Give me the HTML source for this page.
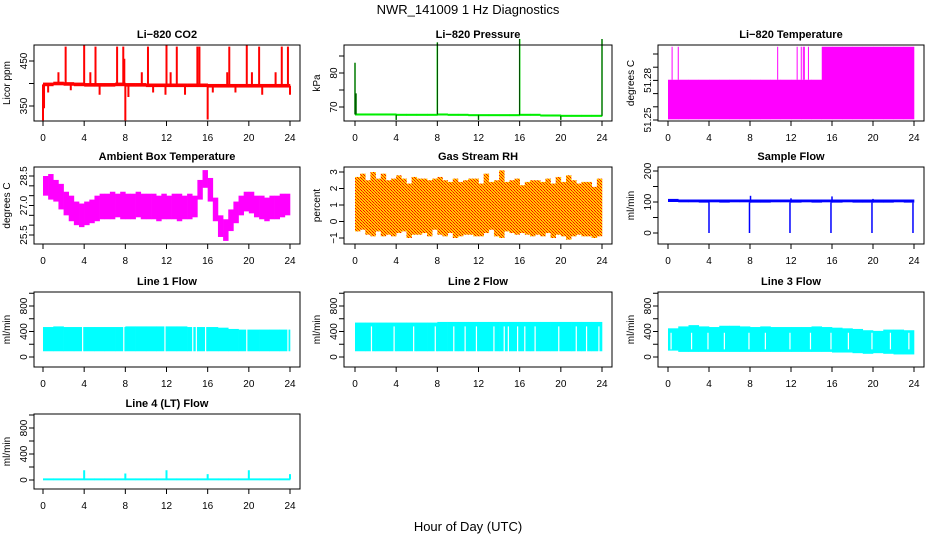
<!DOCTYPE html>
<html><head><meta charset="utf-8"><style>
html,body{margin:0;padding:0;background:#fff;}
svg{display:block;font-family:"Liberation Sans",Arial,sans-serif;}
</style></head><body>
<svg id="chart" width="936" height="540" viewBox="0 0 936 540" xmlns="http://www.w3.org/2000/svg">
<defs>
<pattern id="rhpat" width="3" height="3" patternUnits="userSpaceOnUse">
<rect width="3" height="3" fill="#ffcc00"/><rect width="1" height="1" fill="#ff0000"/><rect x="1" y="1" width="1" height="1" fill="#ff0000"/><rect x="2" y="2" width="1" height="1" fill="#ff3300"/>
</pattern>
</defs>
<text x="468" y="14" font-size="13" text-anchor="middle">NWR_141009  1 Hz Diagnostics</text>
<text x="468" y="531" font-size="13" text-anchor="middle">Hour of Day (UTC)</text>
</svg>
<script>
// ---- data ----
const hourTicks = [0,4,8,12,16,20,24];
// CO2 (ppm)
const co2Base = [398,400,399,398,397,397,397,398,397,397,396,396,396,396,396,396,395,395,395,395,395,395,395,395];
const co2Spikes = [[0.0,318],[0.1,345],[0.5,380],[1.5,425],[2.2,482],[2.7,385],[4.0,485],[4.6,425],[5.1,482],[5.5,375],[7.2,482],[7.8,482],[7.9,455],[8.0,318],[8.3,370],[9.6,425],[10.2,482],[10.7,380],[11.9,375],[12.0,485],[12.4,425],[13.0,482],[13.8,375],[15.0,482],[15.2,482],[16.0,320],[16.5,380],[17.9,425],[18.1,482],[18.7,380],[19.8,485],[20.3,425],[21.0,482],[21.3,375],[22.6,425],[23.2,482],[23.8,482],[24.0,375]];
// Pressure (kPa)
const presBase = [67.8,67.8,67.8,67.8,67.7,67.7,67.7,67.7,67.8,67.7,67.7,67.6,67.6,67.6,67.6,67.6,67.7,67.7,67.5,67.5,67.4,67.4,67.4,67.4];
const presSpikes = [[0.0,83],[0.1,74],[4.0,66.2],[8.0,89],[12.0,66.2],[16.0,90],[20.0,66.2],[24.0,90]];
// Li-820 temperature (deg C)
const tempLevel = [51.2805,51.2805,51.2805,51.2805,51.2805,51.2805,51.2805,51.2805,51.2805,51.2805,51.2805,51.2805,51.2805,51.2805,51.2805,51.3055,51.3055,51.3055,51.3055,51.3055,51.3055,51.3055,51.3055,51.3055];
const tempSpikes = [0.4,1.0,10.7,12.6,13.0,13.2,13.3,13.7];
// Ambient box temperature
const ambMin = [27.5,27.3,27.2,26.8,26.5,26.2,26.0,25.9,26.0,26.1,26.2,26.3,26.3,26.3,26.4,26.3,26.3,26.3,26.4,26.3,26.3,26.3,26.2,26.3,26.3,26.3,26.2,26.3,26.3,26.4,27.3,27.9,27.2,26.2,25.4,25.2,25.7,26.1,26.5,26.7,26.6,26.4,26.3,26.2,26.3,26.3,26.4,26.5];
const ambMax = [28.5,28.6,28.3,28.1,27.7,27.5,27.2,27.1,27.2,27.3,27.5,27.6,27.6,27.7,27.6,27.7,27.6,27.6,27.7,27.6,27.6,27.6,27.5,27.6,27.5,27.6,27.6,27.5,27.6,27.5,28.3,28.8,28.4,27.4,26.5,26.3,26.8,27.2,27.5,27.7,27.7,27.5,27.5,27.4,27.5,27.5,27.6,27.6];
// Gas stream RH (percent)
const rhMin = [-0.6,-0.5,-0.8,-0.9,-0.6,-0.9,-0.8,-0.9,-0.7,-0.6,-1.0,-0.8,-0.8,-0.7,-0.9,-0.5,-0.8,-0.9,-0.7,-1.0,-0.9,-0.8,-0.8,-0.9,-0.9,-0.7,-0.5,-0.9,-1.0,-0.6,-0.7,-0.8,-0.7,-0.8,-0.9,-0.8,-0.9,-0.7,-1.0,-0.8,-0.9,-1.1,-0.9,-0.8,-0.9,-0.9,-1.0,-0.9];
const rhMax = [2.7,2.9,2.5,3.0,2.6,2.9,2.5,2.6,2.8,2.6,2.3,2.7,2.6,2.6,2.5,2.6,2.7,2.5,2.4,2.6,2.4,2.5,2.6,2.6,2.3,2.9,2.4,2.5,3.1,2.4,2.5,2.6,2.2,2.4,2.5,2.5,2.4,2.6,2.3,2.7,2.4,2.8,2.5,2.3,2.4,2.4,2.1,2.6];
// Sample flow (ml/min)
const sfMin = [100,99,99,98,99,98,99,99,98,98,99,99,98,99,98,99,98,99,98,98,98,98,99,98];
const sfMax = [110,108,108,108,108,108,108,108,108,108,108,108,108,108,108,108,108,108,108,108,108,108,108,108];
const sfSpikes = [[4.0,0],[7.95,0],[8.05,120],[11.9,0],[12.0,112],[15.9,0],[16.0,118],[19.9,0],[20.0,110],[23.9,0]];
// Line flows (ml/min)
const l1Max = [470,480,470,470,470,470,470,470,480,480,480,480,480,480,470,470,470,460,440,430,430,430,430,430];
const l1Min = [90,90,90,90,90,90,90,90,90,90,90,90,90,90,90,90,90,90,90,90,90,90,90,90];
const l1Gaps = [3.85,7.85,11.85,14.55,14.9,15.8,19.8,23.8];
const l2Max = [540,540,540,540,540,540,540,540,550,550,550,550,550,550,550,550,550,550,550,550,550,550,550,550];
const l2Min = [90,90,90,90,90,90,90,90,90,90,90,90,90,90,90,90,90,90,90,90,90,90,90,90];
const l2Gaps = [1.6,3.8,5.7,7.8,9.6,10.7,11.8,13.5,14.5,14.9,15.8,16.5,17.5,19.8,21.5,22.5,23.7];
const l3Max = [450,480,500,480,470,490,490,480,470,480,470,470,470,470,480,470,460,450,440,420,410,430,430,420];
const l3Min = [100,80,80,80,80,80,80,80,80,80,80,80,80,80,80,80,70,70,60,50,60,50,40,40];
const l3Gaps = [0.3,2.3,3.9,5.5,7.9,9.5,11.9,13.9,15.9,17.6,19.9,21.7,23.5];
const l4Base = [10,10,10,10,10,10,10,10,10,10,10,10,10,10,10,10,10,10,10,10,10,10,10,10];
const l4Spikes = [[4.0,150],[8.0,100],[12.0,150],[16.0,90],[20.0,150],[24.0,90]];

// ---- layout ----
const svg = document.getElementById('chart');
const NS = 'http://www.w3.org/2000/svg';
const cols = [{bx0:34,bx1:300,x0:43,x1:290,yl:10},{bx0:344,bx1:612,x0:355,x1:602,yl:320},{bx0:658,bx1:924,x0:668,x1:914,yl:634}];
const rows = [{t:45,b:121},{t:167,b:244},{t:292,b:367},{t:414,b:489}];
function mk(tag, attrs, parent){const e=document.createElementNS(NS,tag);for(const k in attrs)e.setAttribute(k,attrs[k]);(parent||svg).appendChild(e);return e;}

function panel(name, title, c, r, ylab, ya, yb, ticks, labels){
  const col=cols[c], row=rows[r];
  const g = mk('g',{});
  
  
  const xs = h => col.x0 + (col.x1-col.x0)*h/24;
  const ys = v => ya[1] + (yb[1]-ya[1])*(v-ya[0])/(yb[0]-ya[0]);
  const plot = mk('g',{},g);
  
  
  const box = mk('rect',{x:col.bx0,y:row.t,width:col.bx1-col.bx0,height:row.b-row.t,fill:'none',stroke:'#000','stroke-width':1},g);
  
  
  const tt = mk('text',{x:(col.bx0+col.bx1)/2,y:row.t-7,'font-size':11,'font-weight':'bold','text-anchor':'middle'},g);
  tt.textContent = title;
  
  
  const xa = mk('g',{},g);
  
  
  mk('line',{x1:xs(0),x2:xs(24),y1:row.b,y2:row.b,stroke:'#000'},xa);
  hourTicks.forEach(h=>{
    mk('line',{x1:xs(h),x2:xs(h),y1:row.b,y2:row.b+5,stroke:'#000'},xa);
    const t = mk('text',{x:xs(h),y:row.b+20,'font-size':10,'text-anchor':'middle'},xa);
    t.textContent = h;
    
    
  });
  const yaG = mk('g',{},g);
  
  
  mk('line',{x1:col.bx0,x2:col.bx0,y1:ys(ticks[0]),y2:ys(ticks[ticks.length-1]),stroke:'#000'},yaG);
  ticks.forEach(v=>{
    mk('line',{x1:col.bx0-5,x2:col.bx0,y1:ys(v),y2:ys(v),stroke:'#000'},yaG);
  });
  labels.forEach(l=>{
    const t = mk('text',{transform:`translate(${col.bx0-7},${ys(l[0])}) rotate(-90)`,'font-size':10,'text-anchor':'middle'},yaG);
    t.textContent = l[1];
    
    
  });
  const yt = mk('text',{transform:`translate(${col.yl},${(row.t+row.b)/2}) rotate(-90)`,'font-size':10,'text-anchor':'middle'},yaG);
  yt.textContent = ylab;
  
  
  return {plot, xs, ys};
}
function band(p, mins, maxs, fill){
  const n = mins.length, step = 24/n;
  mins.forEach((lo,i)=>{
    const hi = maxs[i];
    const e = mk('rect',{x:p.xs(i*step),y:p.ys(hi),width:p.xs((i+1)*step)-p.xs(i*step)+0.3,height:Math.max(1,p.ys(lo)-p.ys(hi)),fill:fill},p.plot);
    
    
  });
}
function spikes(p, list, baseArr, color, w){
  list.forEach(s=>{
    const b = baseArr[Math.min(23,Math.floor(s[0]))];
    const e = mk('line',{x1:p.xs(s[0]),x2:p.xs(s[0]),y1:p.ys(b),y2:p.ys(s[1]),stroke:color,'stroke-width':w},p.plot);
    
    
  });
}
function gaps(p, list, lo, hi){
  list.forEach(h=>{
    const e = mk('line',{x1:p.xs(h),x2:p.xs(h),y1:p.ys(hi),y2:p.ys(lo),stroke:'#fff','stroke-width':1.2},p.plot);
    
    
  });
}

let p = panel('co2','Li−820 CO2',0,0,'Licor ppm',[450,61],[350,106],[350,400,450],[[350,'350'],[450,'450']]);
band(p, co2Base.map(v=>v-4), co2Base.map(v=>v+4), '#ff0000');
spikes(p, co2Spikes, co2Base, '#ff0000', 2);
p = panel('pressure','Li−820 Pressure',1,0,'kPa',[70,107],[80,73],[70,75,80,85],[[70,'70'],[80,'80']]);
band(p, presBase.map(v=>v-0.3), presBase.map(v=>v+0.3), '#00ee00');
spikes(p, presSpikes, presBase, '#00cc00', 1.5);
spikes(p, presSpikes, presBase, '#000', 0.6);
p = panel('li820-temp','Li−820 Temperature',2,0,'degrees C',[51.25,120],[51.30,54],[51.25,51.26,51.27,51.28,51.29,51.30],[[51.25,'51.25'],[51.28,'51.28']]);
band(p, tempLevel.map(()=>51.2505), tempLevel, '#ff00ff');
spikes(p, tempSpikes.map(h=>[h,51.3055]), tempLevel, '#ff00ff', 1);
p = panel('ambient-temp','Ambient Box Temperature',0,1,'degrees C',[25.5,235],[28.5,176],[25.5,26,26.5,27,27.5,28,28.5],[[25.5,'25.5'],[27.0,'27.0'],[28.5,'28.5']]);
band(p, ambMin, ambMax, '#ff00ff');
p = panel('rh','Gas Stream RH',1,1,'percent',[-1,238],[3,172],[-1,0,1,2,3],[[-1,'−1'],[0,'0'],[1,'1'],[2,'2'],[3,'3']]);
band(p, rhMin, rhMax, 'url(#rhpat)');
p = panel('sample-flow','Sample Flow',2,1,'ml/min',[0,233],[200,171],[0,50,100,150,200],[[0,'0'],[100,'100'],[200,'200']]);
band(p, sfMin, sfMax, '#0000ff');
spikes(p, sfSpikes, sfMin, '#0000ff', 1.5);
const flowTicks=[0,200,400,600,800,1000], flowLabels=[[0,'0'],[400,'400'],[800,'800']];
p = panel('line1-flow','Line 1 Flow',0,2,'ml/min',[0,357],[800,306],flowTicks,flowLabels);
band(p, l1Min, l1Max, '#00ffff'); gaps(p, l1Gaps, 80, 500);
p = panel('line2-flow','Line 2 Flow',1,2,'ml/min',[0,357],[800,306],flowTicks,flowLabels);
band(p, l2Min, l2Max, '#00ffff'); gaps(p, l2Gaps, 80, 480);
p = panel('line3-flow','Line 3 Flow',2,2,'ml/min',[0,357],[800,306],flowTicks,flowLabels);
band(p, l3Min, l3Max, '#00ffff'); gaps(p, l3Gaps, 120, 380);
p = panel('line4-flow','Line 4 (LT) Flow',0,3,'ml/min',[0,480],[800,428],flowTicks,flowLabels);
band(p, l4Base.map(v=>v-15), l4Base.map(v=>v+15), '#00ffff');
spikes(p, l4Spikes, l4Base, '#00ffff', 2);
</script>
</body></html>
